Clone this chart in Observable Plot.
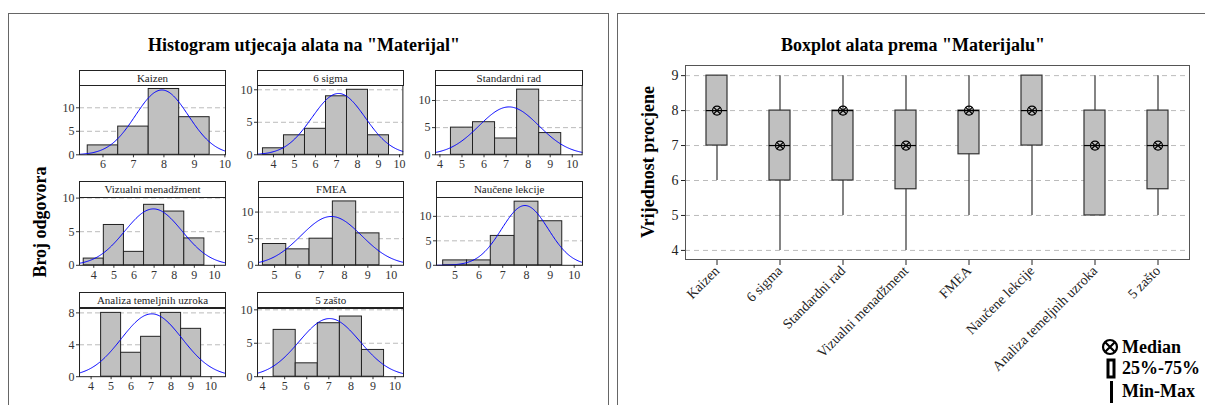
<!DOCTYPE html>
<html><head><meta charset="utf-8">
<script src="https://cdn.jsdelivr.net/npm/d3@7"></script>
<script src="https://cdn.jsdelivr.net/npm/@observablehq/plot@0.6"></script>
<style>
body{margin:0;background:#fff;}
#root{position:relative;width:1205px;height:405px;overflow:hidden;font-family:"Liberation Serif","Times New Roman",serif;color:#000;}
.panel{position:absolute;border:1px solid #666;box-sizing:border-box;}
.title{position:absolute;font-weight:bold;font-size:18px;white-space:nowrap;transform:translate(-50%,-50%);}
.strip{position:absolute;border:1px solid #222;box-sizing:border-box;font-size:11px;text-align:center;background:#fff;color:#222;white-space:nowrap;}
.ytitle{position:absolute;font-weight:bold;font-size:18px;white-space:nowrap;transform:translate(-50%,-50%) rotate(-90deg);}
.leg{position:absolute;font-weight:bold;font-size:18px;white-space:nowrap;transform:translateY(-50%);}
svg.plot-abs{position:absolute;}
svg.plot-abs text{font-family:"Liberation Serif","Times New Roman",serif;}
</style>
</head><body><div id="root"></div>
<script>
// ---------- data ----------
const tools = ["Kaizen","6 sigma","Standardni rad","Vizualni menadžment","FMEA","Naučene lekcije","Analiza temeljnih uzroka","5 zašto"];
const scoreValues = [4,5,6,7,8,9];
// answer counts per score (4..9) for each tool
const kaizenCounts    = [0,0,2,6,14,8];
const sigmaCounts     = [1,3,4,9,10,3];
const standardCounts  = [0,5,6,3,12,4];
const vizualniCounts  = [1,6,2,9,8,4];
const fmeaCounts      = [0,4,3,5,12,6];
const naucCounts      = [0,1,1,6,13,9];
const analizaCounts   = [0,8,3,5,8,6];
const zastoCounts     = [0,7,2,8,9,4];
// boxplot statistics
const boxMin    = [6,4,5,4,5,5,5,5];
const boxQ1     = [7,6,6,5.75,6.75,7,5,5.75];
const boxMedian = [8,7,8,7,8,8,7,7];
const boxQ3     = [9,8,8,8,8,9,8,8];
const boxMax    = [9,9,9,9,9,9,9,9];
// tick labels
const histXTicksA = [6,7,8,9,10];
const histXTicksB = [4,5,6,7,8,9,10];
const histXTicksC = [5,6,7,8,9,10];
const histYTicks  = [0,5,10];
const histYTicksAn = [0,4,8];
const boxYTicks   = [4,5,6,7,8,9];

const allCounts = [kaizenCounts,sigmaCounts,standardCounts,vizualniCounts,fmeaCounts,naucCounts,analizaCounts,zastoCounts];

// ---------- layout ----------
const root = document.getElementById("root");
const FONT = '"Liberation Serif","Times New Roman",serif';
function el(cls, css, text){const d=document.createElement("div");d.className=cls;Object.assign(d.style,css);if(text!=null)d.textContent=text;root.appendChild(d);return d;}

el("panel",{left:"8px",top:"13px",width:"601px",height:"420px"});
el("panel",{left:"617px",top:"13px",width:"620px",height:"420px"});
el("title",{left:"304px",top:"45px"},'Histogram utjecaja alata na "Materijal"');
el("title",{left:"913px",top:"45px"},'Boxplot alata prema "Materijalu"');
el("ytitle",{left:"40px",top:"222px"},"Broj odgovora");
el("ytitle",{left:"648px",top:"162px"},"Vrijednost procjene");

const panels = [
  {L:79,  R:225,   st:70,  sb:85,  B:154.3, xd:[5.23,10.02], yd:[0,14.74], xt:histXTicksA, yt:histYTicks},
  {L:257.3,R:402.7,st:70,  sb:85,  B:154.3, xd:[3.24,10.16], yd:[0,10.66], xt:histXTicksB, yt:histYTicks},
  {L:435, R:581.7, st:70,  sb:85,  B:154.3, xd:[3.8,10.45],  yd:[0,12.76], xt:histXTicksB, yt:histYTicks},
  {L:79,  R:225,   st:181, sb:196.5,B:264.3, xd:[3.29,10.55], yd:[0,10.09], xt:histXTicksB, yt:histYTicks},
  {L:258.3,R:403.3,st:181, sb:196.5,B:264.3, xd:[4.31,10.53], yd:[0,12.74], xt:histXTicksC, yt:histYTicks},
  {L:435.7,R:581.7,st:181, sb:196.5,B:264.3, xd:[4.22,10.35], yd:[0,13.85], xt:histXTicksC, yt:histYTicks},
  {L:79,  R:225,   st:292.3,sb:307.5,B:375.7, xd:[3.42,10.72], yd:[0,8.55], xt:histXTicksB, yt:histYTicksAn},
  {L:257.3,R:403.3,st:292.3,sb:307.5,B:375.7, xd:[3.77,10.38], yd:[0,10.2], xt:histXTicksB, yt:histYTicks}
];

panels.forEach((p,k)=>{
  const counts = allCounts[k];
  const bars = scoreValues.map((v,i)=>({v, c:counts[i]})).filter(d=>d.c>0);
  const n = d3.sum(bars,d=>d.c);
  const mean = d3.sum(bars,d=>d.v*d.c)/n;
  const sd = Math.sqrt(d3.sum(bars,d=>d.c*(d.v-mean)**2)/(n-1));
  // fitted normal curve (from the counts above), scaled to counts with bin width 1
  const curve = d3.range(0,161).map(i=>{const x=p.xd[0]+(p.xd[1]-p.xd[0])*i/160;return {x,y:n/(sd*Math.sqrt(2*Math.PI))*Math.exp(-0.5*((x-mean)/sd)**2)};});
  const mL=30,mR=12,mT=1,mB=22;
  const svg = Plot.plot({
    width:(p.R-p.L)+mL+mR, height:(p.B-p.sb)+mT+mB,
    marginLeft:mL, marginRight:mR, marginTop:mT, marginBottom:mB,
    style:{fontFamily:FONT,fontSize:"12px",color:"#333",background:"transparent",overflow:"visible"},
    x:{domain:p.xd, ticks:p.xt, tickSize:3, tickPadding:2, label:null, tickFormat:d=>String(d)},
    y:{domain:p.yd, ticks:p.yt, tickSize:3, tickPadding:2, label:null, tickFormat:d=>String(d)},
    marks:[
      Plot.ruleY(p.yt.filter(t=>t>0),{stroke:"#bbb",strokeDasharray:"5,3"}),
      Plot.rect(bars,{x1:d=>d.v-0.5,x2:d=>d.v+0.5,y1:0,y2:"c",fill:"#c0c0c0",stroke:"#222",strokeWidth:1}),
      Plot.line(curve,{x:"x",y:"y",stroke:"#0000ff",strokeWidth:1}),
      Plot.frame({stroke:"#222"})
    ]
  });
  svg.classList.add("plot-abs");
  svg.style.left=(p.L-mL)+"px"; svg.style.top=(p.sb-mT)+"px";
  root.appendChild(svg);
  el("strip",{left:p.L+"px",top:p.st+"px",width:(p.R-p.L+1)+"px",height:(p.sb-p.st+1)+"px",lineHeight:(p.sb-p.st-1)+"px"},tools[k]);
});

// ---------- boxplot ----------
const boxData = tools.map((t,i)=>({tool:t,min:boxMin[i],q1:boxQ1[i],median:boxMedian[i],q3:boxQ3[i],max:boxMax[i]}));
const bL=685,bR=1189,bT=65,bB=259;
const bmL=60,bmR=10,bmT=5,bmB=140;
const boxSvg = Plot.plot({
  width:(bR-bL)+bmL+bmR, height:(bB-bT)+bmT+bmB,
  marginLeft:bmL, marginRight:bmR, marginTop:bmT, marginBottom:bmB,
  style:{fontFamily:FONT,fontSize:"14px",color:"#222",background:"transparent",overflow:"visible"},
  x:{domain:tools, padding:0, tickRotate:-45, tickSize:6, tickPadding:3, label:null},
  y:{domain:[3.74,9.29], ticks:boxYTicks, tickSize:4, tickPadding:3, label:null, tickFormat:d=>String(d)},
  marks:[
    Plot.ruleY(boxYTicks,{stroke:"#bbb",strokeDasharray:"5,4"}),
    Plot.ruleX(boxData,{x:"tool",y1:"min",y2:"max",stroke:"#333",strokeWidth:1.2}),
    Plot.barY(boxData,{x:"tool",y1:"q1",y2:"q3",fill:"#c0c0c0",stroke:"#333",strokeWidth:1.2,insetLeft:21,insetRight:21}),
    Plot.tickY(boxData,{x:"tool",y:"median",stroke:"#000",strokeWidth:1.2,insetLeft:21,insetRight:21}),
    Plot.dot(boxData,{x:"tool",y:"median",r:4.5,stroke:"#000",fill:"none",strokeWidth:1.2}),
    Plot.dot(boxData,{x:"tool",y:"median",r:3.2,symbol:"times",stroke:"#000",strokeWidth:1.2}),
    Plot.frame({stroke:"#555"})
  ]
});
boxSvg.classList.add("plot-abs");
boxSvg.style.left=(bL-bmL)+"px"; boxSvg.style.top=(bT-bmT)+"px";
root.appendChild(boxSvg);

// ---------- legend ----------
const legNS="http://www.w3.org/2000/svg";
const leg = document.createElementNS(legNS,"svg");
leg.setAttribute("width","30");leg.setAttribute("height","70");
leg.style.position="absolute";leg.style.left="1098px";leg.style.top="335px";
leg.innerHTML='<circle cx="12" cy="12" r="7" fill="none" stroke="#000" stroke-width="2.2"/>'+
 '<path d="M7.5 7.5L16.5 16.5M16.5 7.5L7.5 16.5" stroke="#000" stroke-width="2.2"/>'+
 '<rect x="10" y="25" width="6" height="17" fill="#fff" stroke="#000" stroke-width="3"/>'+
 '<rect x="12" y="46" width="3" height="22" fill="#000"/>';
root.appendChild(leg);
el("leg",{left:"1122px",top:"347px"},"Median");
el("leg",{left:"1122px",top:"368px"},"25%-75%");
el("leg",{left:"1122px",top:"391px"},"Min-Max");
</script>
</body></html>
